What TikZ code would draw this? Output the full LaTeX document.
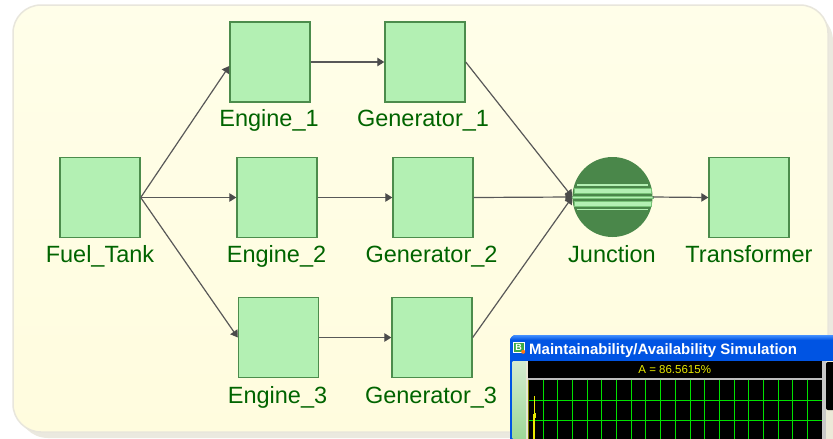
\documentclass[tikz,border=0pt]{standalone}
\usepackage{fontspec}
\setmainfont{Liberation Sans}
\usetikzlibrary{arrows.meta}

\definecolor{boxfill}{RGB}{179,240,179}
\definecolor{boxedge}{RGB}{76,140,76}
\definecolor{jfill}{RGB}{74,135,74}
\definecolor{stripeedge}{RGB}{120,195,120}
\definecolor{lblgreen}{RGB}{0,100,0}
\definecolor{wire}{RGB}{88,88,88}
\definecolor{tipgrey}{RGB}{75,75,75}
\definecolor{paneltop}{RGB}{255,254,233}
\definecolor{panelbottom}{RGB}{255,252,222}
\definecolor{panelline}{RGB}{232,230,220}
\definecolor{panelshadow}{RGB}{235,233,223}
\definecolor{xpblue}{RGB}{0,84,227}
\definecolor{xplight}{RGB}{70,145,255}
\definecolor{xpface}{RGB}{236,233,216}
\definecolor{stripetop}{RGB}{214,236,208}
\definecolor{stripebottom}{RGB}{140,210,135}
\definecolor{icongreen}{RGB}{60,170,70}
\definecolor{iconorange}{RGB}{255,120,20}
\definecolor{sepgrey}{RGB}{190,190,190}
\definecolor{edgegrey}{RGB}{200,200,200}
\definecolor{axisolive}{RGB}{128,128,0}
\definecolor{gridgreen}{RGB}{0,225,0}
\definecolor{tracey}{RGB}{235,235,0}

\tikzset{
  stagebox/.style={draw=boxedge, line width=1.4pt, fill=boxfill,
    minimum width=80pt, minimum height=80pt, inner sep=0pt},
  lbl/.style={anchor=base, text=lblgreen, inner sep=0pt,
    font=\fontsize{23.5}{28}\selectfont},
  flow/.style={draw=wire, line width=1.2pt,
    -{Triangle[length=7pt,width=8.5pt,color=tipgrey]}},
  stripe/.style={fill=boxfill, draw=stripeedge, line width=0.6pt},
  gridline/.style={draw=gridgreen, line width=1pt},
}

\begin{document}
\begin{tikzpicture}[x=1pt,y=-1pt]
\useasboundingbox (0,0) rectangle (833,439);
\fill[white] (0,0) rectangle (833,439);

% panel with its drop shadow
\fill[panelshadow, rounded corners=30pt] (18,11) rectangle (833,438);
\shade[top color=paneltop, bottom color=panelbottom,
       draw=panelline, line width=1.5pt, rounded corners=28pt]
  (13,5) rectangle (828,432);

% blocks
\node[stagebox] (ft) at (100,197.5) {};
\node[stagebox] (e1) at (270,62) {};
\node[stagebox] (g1) at (425,62) {};
\node[stagebox] (e2) at (277,197.5) {};
\node[stagebox] (g2) at (433,197.5) {};
\node[stagebox] (e3) at (278.5,337.5) {};
\node[stagebox] (g3) at (432,337.5) {};
\node[stagebox] (tr) at (749,197.5) {};

% junction symbol
\node[circle, fill=jfill, minimum size=80pt, inner sep=0pt] (j) at (612.5,197) {};
\fill[boxfill] (577,184.4) rectangle (648,185.8);
\filldraw[stripe] (574,188) rectangle (651,193.5);
\filldraw[stripe] (571.5,196) rectangle (653.5,198.6);
\filldraw[stripe] (574,201) rectangle (651,206.5);
\fill[boxfill] (577,208.6) rectangle (648,210);

% labels
\node[lbl] (ftl) at (100,262) {Fuel\_Tank};
\node[lbl] (e1l) at (269,126) {Engine\_1};
\node[lbl] (g1l) at (423,126) {Generator\_1};
\node[lbl] (e2l) at (276.5,262) {Engine\_2};
\node[lbl] (g2l) at (431.5,262) {Generator\_2};
\node[lbl] (e3l) at (277.5,403) {Engine\_3};
\node[lbl] (g3l) at (431,403) {Generator\_3};
\node[lbl] (jl) at (612,262) {Junction};
\node[lbl] (trl) at (749,262) {Transformer};

% connectors
\draw[flow] (ft.east) -- ([yshift=-4pt]e1.west);
\draw[flow] (ft.east) -- (e2.west);
\draw[flow] (ft.east) -- (e3.west);
\draw[flow] (e1.east) -- (g1.west);
\draw[flow] (e2.east) -- (g2.west);
\draw[flow] (e3.east) -- (g3.west);
\draw[flow] (g1.east) -- (j.west);
\draw[flow] (g2.east) -- (j.west);
\draw[flow] (g3.east) -- (j.west);
\draw[flow] (j.east) -- (tr.west);

% simulation window
\begin{scope}
  \clip (0,0) rectangle (833,439);
  \fill[xpblue, rounded corners=6pt] (510,335) rectangle (850,460);
  \shade[top color=xplight, bottom color=xpblue, middle color=xpblue,
         rounded corners=6pt] (510,335) rectangle (850,345);
  \fill[xpblue] (510,341) rectangle (850,361);
  \fill[xpface] (512.5,361) rectangle (850,460);
  \shade[top color=stripetop, bottom color=stripebottom]
    (512.5,361) rectangle (526,460);
  % icon
  \fill[icongreen] (513,342) rectangle (525,353);
  \draw[white, line width=0.5pt] (513.3,342.3) rectangle (524.7,352.7);
  \node[text=white, inner sep=0pt, font=\bfseries\fontsize{9}{10}\selectfont]
    (icon) at (518.6,347.4) {B};
  \fill[iconorange] (523.2,351.8) circle (2pt);
  % title
  \node[anchor=base west, text=white, inner sep=0pt,
        font=\bfseries\fontsize{15}{18}\selectfont] (title) at (529,354.5)
    {Maintainability/Availability Simulation};
  % readout strip
  \fill[black] (528,361) rectangle (822,377.5);
  \node[anchor=base, text=tracey, inner sep=0pt,
        font=\fontsize{11.5}{14}\selectfont] (readout) at (674.7,373)
    {A = 86.5615\%};
  \fill[sepgrey] (528,377.5) rectangle (822,379.5);
  % chart
  \fill[black] (528,379.5) rectangle (822,460);
  \foreach \k in {0,...,18}
    \draw[gridline] ({543.3+14.67*\k},379.5) -- ({543.3+14.67*\k},440);
  \draw[gridline] (528,400.7) -- (822,400.7);
  \draw[gridline] (528,420) -- (822,420);
  \draw[axisolive, line width=1pt] (528.8,379.5) -- (528.8,440);
  \draw[tracey, line width=0.8pt] (534.4,396) -- (534.4,440);
  \draw[tracey, line width=0.8pt] (533.2,414) -- (533.2,440);
  \draw[tracey, line width=0.8pt] (535.3,413) -- (535.3,418);
  % right edge of window
  \fill[edgegrey] (822,361) rectangle (826,440);
  \fill[black, rounded corners=2pt] (826,362) rectangle (840,410);
\end{scope}
\end{tikzpicture}
\end{document}
